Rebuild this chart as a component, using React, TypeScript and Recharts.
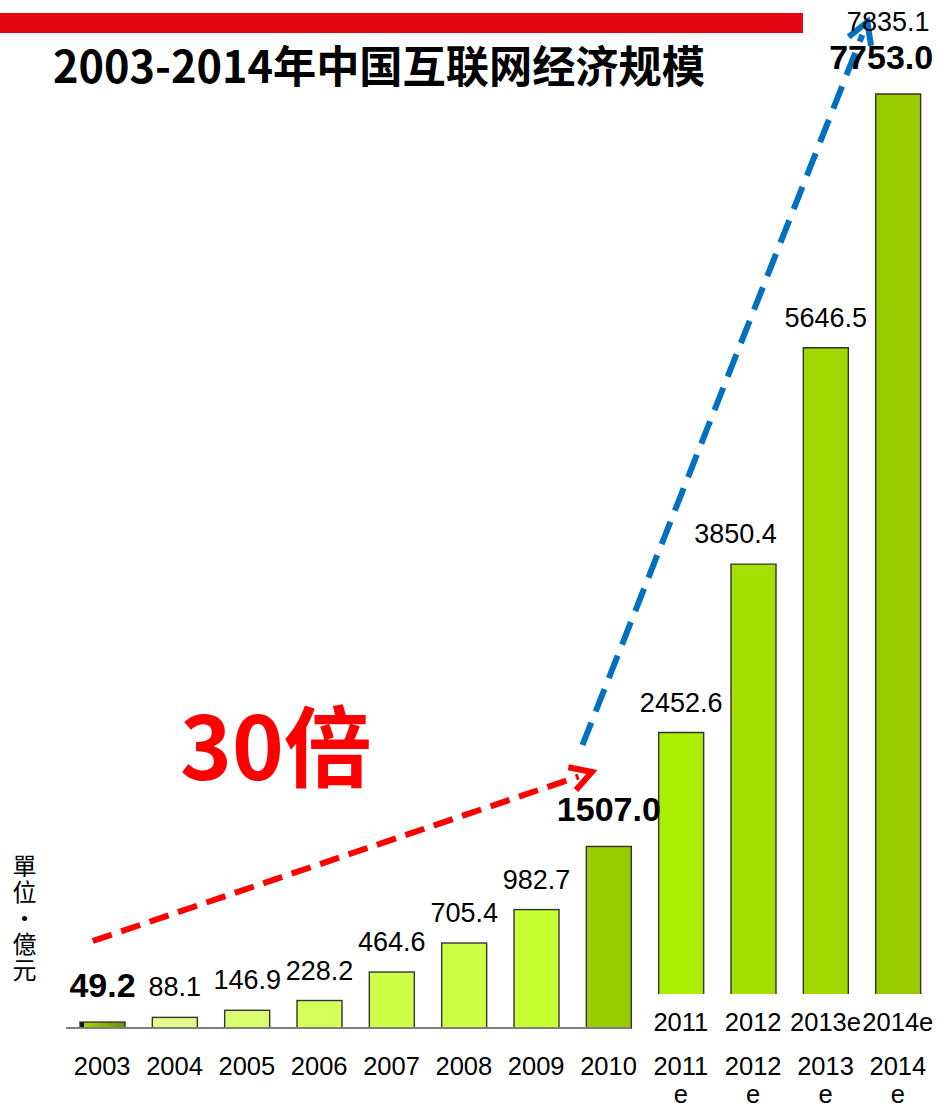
import React from "react";
import {
  ComposedChart,
  Bar,
  Cell,
  XAxis,
  YAxis,
  LabelList,
  ReferenceLine,
} from "recharts";

// 中国互联网经济规模（亿元）
const years = ["2003", "2004", "2005", "2006", "2007", "2008", "2009", "2010", "2011e", "2012e", "2013e", "2014e"];
const scaleValues = [49.2, 88.1, 146.9, 228.2, 464.6, 705.4, 982.7, 1507.0, 2452.6, 3850.4, 5646.5, 7753.0];
const altEstimates = [null, null, null, null, null, null, null, null, null, null, null, 7835.1];
const innerLabels = ["", "", "", "", "", "", "", "", "2011", "2012", "2013e", "2014e"];
const bottomLabels = ["2003", "2004", "2005", "2006", "2007", "2008", "2009", "2010", "2011 e", "2012 e", "2013 e", "2014 e"];
const unitLabel = "單位・億元";

// styling
const barColors = [
  "url(#bar2003)", "#e0ff88", "#d9ff6e", "#d4ff58", "#ceff48", "#ccff44", "#c8ff33",
  "#99cc00", "#aaee00", "#a6e000", "#a0d800", "#99cc00",
];
const boldIdx = [0, 7, 11];
const labelDx = [0, 0, 0, 0, 0, 0, 0, 0, 0, -18, 0, -17];
const CROP = 34; // forecast bars sit on a pasted panel, bottoms trimmed

// pos = band centre on the helper numeric axis used by the annotations
const data = years.map((year, i) => ({ year, pos: i + 0.5, value: scaleValues[i], alt: altEstimates[i] }));

const FONT = "'Liberation Sans', Arial, sans-serif";

const BarShape = (props: any) => {
  const { x, y, width, height, payload } = props;
  const i = years.indexOf(payload.year);
  const cropped = !!innerLabels[i];
  const h = Math.max(cropped ? height - CROP : height, 0);
  if (!cropped) {
    return <rect x={x} y={y} width={width} height={h} fill={barColors[i]} stroke="#333" strokeWidth={1.4} />;
  }
  return (
    <g>
      <rect x={x} y={y} width={width} height={h} fill={barColors[i]} />
      <path
        d={`M${x},${y + h} V${y} H${x + width} V${y + h}`}
        fill="none"
        stroke="#333"
        strokeWidth={1.4}
      />
    </g>
  );
};

const ValueLabel = (props: any) => {
  const { x, y, width, value } = props;
  const i = scaleValues.indexOf(value);
  const bold = boldIdx.includes(i);
  const cx = x + width / 2 + labelDx[i];
  const alt = altEstimates[i];
  return (
    <g>
      <text
        x={cx}
        y={y - (bold ? 25 : 21)}
        textAnchor="middle"
        fontFamily={FONT}
        fontSize={bold ? 34 : 27}
        fontWeight={bold ? 700 : 400}
        fill="#000"
      >
        {Number(value).toFixed(1)}
      </text>
      {alt != null && (
        <text x={cx + 7} y={y - 63} textAnchor="middle" fontFamily={FONT} fontSize={27} fill="#000">
          {alt.toFixed(1)}
        </text>
      )}
    </g>
  );
};

const InnerTick = (props: any) => {
  const { x, y, index } = props;
  const label = innerLabels[index];
  if (!label) return <g />;
  return (
    <text x={x} y={y + 3} textAnchor="middle" fontFamily={FONT} fontSize={25.5} fill="#000">
      {label}
    </text>
  );
};

const BottomTick = (props: any) => {
  const { x, y, index } = props;
  const lines = bottomLabels[index].split(" ");
  return (
    <text textAnchor="middle" fontFamily={FONT} fontSize={25.5} fill="#000">
      {lines.map((l, k) => (
        <tspan key={k} x={x} y={y + 27 + k * 28}>
          {l}
        </tspan>
      ))}
    </text>
  );
};

const arrowShape = (color: string, dash: string) => (p: any) => {
  const { x1, y1, x2, y2 } = p;
  const ang = Math.atan2(y2 - y1, x2 - x1);
  const len = 24;
  const spread = Math.PI / 6;
  const ax = x2 - len * Math.cos(ang - spread);
  const ay = y2 - len * Math.sin(ang - spread);
  const bx = x2 - len * Math.cos(ang + spread);
  const by = y2 - len * Math.sin(ang + spread);
  const ex = x2 - 14 * Math.cos(ang);
  const ey = y2 - 14 * Math.sin(ang);
  return (
    <g>
      <line x1={x1} y1={y1} x2={ex} y2={ey} stroke={color} strokeWidth={6} strokeDasharray={dash} />
      <polyline
        points={`${ax},${ay} ${x2},${y2} ${bx},${by}`}
        fill="none"
        stroke={color}
        strokeWidth={6}
        strokeLinejoin="miter"
      />
    </g>
  );
};

export default function App() {
  return (
    <div style={{ position: "absolute", left: 0, top: 0, width: 951, height: 1107, background: "#fff" }}>
      <svg width={0} height={0} style={{ position: "absolute" }}>
        <defs>
          <linearGradient id="bar2003" x1="0" y1="0" x2="1" y2="0">
            <stop offset="0" stopColor="#111" />
            <stop offset="0.09" stopColor="#111" />
            <stop offset="0.1" stopColor="#a2d400" />
            <stop offset="1" stopColor="#6a9400" />
          </linearGradient>
        </defs>
      </svg>
      <ComposedChart
        width={951}
        height={1107}
        data={data}
        margin={{ top: 4, right: 17, bottom: 0, left: 66 }}
      >
        <YAxis hide domain={[0, 8500]} type="number" />
        <XAxis xAxisId="n" dataKey="pos" hide type="number" domain={[0, 12]} allowDataOverflow />
        <ReferenceLine
          xAxisId="n"
          segment={[{ x: 0, y: 0 }, { x: 7.81, y: 0 }]}
          stroke="#7f7f7f"
          strokeWidth={2}
          ifOverflow="visible"
        />
        <Bar
          dataKey="value"
          xAxisId="a"
          barSize={45}
          shape={BarShape}
          isAnimationActive={false}
        >
          {data.map((d, i) => (
            <Cell key={d.year} fill={barColors[i]} />
          ))}
          <LabelList dataKey="value" content={<ValueLabel />} />
        </Bar>
        <ReferenceLine
          xAxisId="n"
          segment={[{ x: 0.37, y: 722 }, { x: 7.27, y: 2125 }]}
          shape={arrowShape("#ff0000", "20 10")}
          ifOverflow="visible"
        />
        <ReferenceLine
          xAxisId="n"
          segment={[{ x: 7.14, y: 2349 }, { x: 11.08, y: 8351 }]}
          shape={arrowShape("#0070c0", "24 12")}
          ifOverflow="visible"
        />
        <XAxis
          xAxisId="a"
          dataKey="year"
          height={20}
          axisLine={false}
          tickLine={false}
          tickSize={0}
          tickMargin={0}
          interval={0}
          tick={<InnerTick />}
        />
        <XAxis
          xAxisId="b"
          dataKey="year"
          height={59}
          axisLine={false}
          tickLine={false}
          tickSize={0}
          tickMargin={0}
          interval={0}
          tick={<BottomTick />}
        />
      </ComposedChart>
      <svg
        width={951}
        height={1107}
        style={{ position: "absolute", left: 0, top: 0, pointerEvents: "none" }}
      >
        <rect x={0} y={13} width={803} height={20} fill="#e30613" />
        <text
          x={53}
          y={83}
          fontFamily="'Noto Sans CJK SC', sans-serif"
          fontWeight={700}
          fontSize={44}
          textLength={652}
          lengthAdjust="spacingAndGlyphs"
          fill="#000"
        >
          2003-2014年中国互联网经济规模
        </text>
        <text
          x={180}
          y={780}
          fontFamily="'Noto Sans CJK SC', sans-serif"
          fontWeight={700}
          fontSize={88}
          fill="#ff0000"
        >
          30倍
        </text>
      </svg>
      <div
        style={{
          position: "absolute",
          left: 12,
          top: 854,
          writingMode: "vertical-rl",
          fontFamily: "'Noto Sans CJK TC', sans-serif",
          fontSize: 24,
          lineHeight: "24px",
          letterSpacing: 2,
          color: "#000",
        }}
      >
        {unitLabel}
      </div>
    </div>
  );
}
